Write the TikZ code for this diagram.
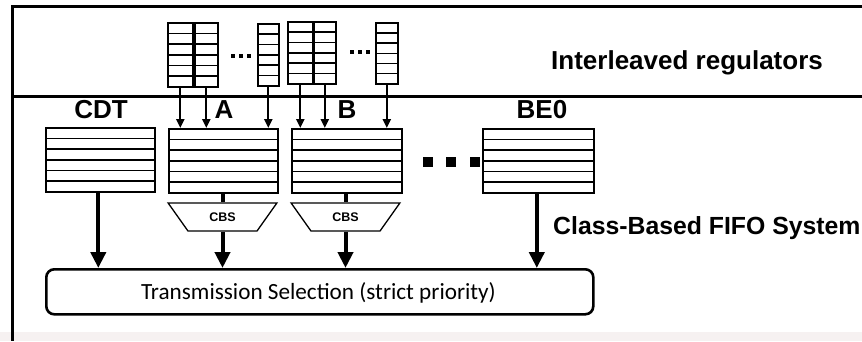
\documentclass[tikz,border=0pt]{standalone}
\usepackage{fontspec}
\setmainfont{Liberation Sans}
\newfontfamily\calib{Carlito}
\usetikzlibrary{arrows.meta,shapes.geometric,calc}
\definecolor{haze}{RGB}{246,241,241}

\tikzset{
  frameline/.style={line width=3pt},
  rowed/.style={draw, line width=1.6pt, inner sep=0pt, anchor=north west,
    path picture={\foreach \k in {1,...,5}{
      \draw[line width=1.4pt]
        ($(path picture bounding box.north west)!\k/6!(path picture bounding box.south west)$) --
        ($(path picture bounding box.north east)!\k/6!(path picture bounding box.south east)$);}}},
  regq/.style={rowed, minimum width=#1},
  fifo/.style={rowed, minimum height=64pt, minimum width=#1},
  lbl/.style={font=\fontsize{26}{28}\selectfont\bfseries, inner sep=0pt},
  tdot/.style={fill=black, inner sep=0pt, minimum size=4.5pt},
  bdot/.style={fill=black, inner sep=0pt, minimum size=10pt},
  cbs/.style={draw, line width=1.3pt, trapezium, shape border rotate=180,
    trapezium stretches=true, trapezium left angle=49.4, trapezium right angle=49.4,
    minimum height=28pt, inner sep=0pt, font=\fontsize{12.5}{14}\selectfont\bfseries},
  smallarrow/.style={line width=2.2pt, -{Triangle[width=8pt,length=9pt]}},
  bigarrow/.style={line width=4pt, -{Triangle[width=15pt,length=16pt]}},
  link/.style={line width=4pt},
}

\begin{document}
\begin{tikzpicture}[x=1pt, y=-1pt]
  \useasboundingbox (0,0) rectangle (862,341);
  \clip (0,0) rectangle (862,341);
  \fill[haze] (0,332) rectangle (862,341);

  % outer frame and divider between the two stages
  \draw[frameline] (862,6) -- (12,6) -- (12,341);
  \draw[frameline] (12,96) -- (862,96);

  % interleaved regulator queues
  \node[regq=25pt, minimum height=64pt] (r1) at (167,22) {};
  \node[regq=23pt, minimum height=64pt] (r2) at (194,22) {};
  \node[regq=21pt, minimum height=62pt] (r3) at (257,23) {};
  \node[regq=25pt, minimum height=62pt] (r4) at (287,21) {};
  \node[regq=22pt, minimum height=62pt] (r5) at (313,21) {};
  \node[regq=22pt, minimum height=61pt] (r6) at (375,22) {};

  \node[tdot] (da1) at (233,56) {};
  \node[tdot] (da2) at (241,56) {};
  \node[tdot] (da3) at (249,56) {};
  \node[tdot] (db1) at (352,52) {};
  \node[tdot] (db2) at (360,52) {};
  \node[tdot] (db3) at (368,52) {};

  \node[lbl, anchor=base west] (ireg) at (551,69) {Interleaved regulators};

  % class-based FIFO queues
  \node[fifo=109pt] (cdt) at (45,127) {};
  \node[fifo=109pt] (fa)  at (168,128) {};
  \node[fifo=110pt] (fb)  at (291,128) {};
  \node[fifo=111pt] (fbe) at (482,128) {};

  \node[lbl, anchor=base] (lcdt) at (101,118) {CDT};
  \node[lbl, anchor=base] (la)   at (224,118) {A};
  \node[lbl, anchor=base] (lb)   at (347,118) {B};
  \node[lbl, anchor=base] (lbe)  at (542,118) {BE0};

  \node[bdot] (e1) at (428,162) {};
  \node[bdot] (e2) at (451,162) {};
  \node[bdot] (e3) at (475,162) {};

  \node[lbl, font=\fontsize{24.8}{27}\selectfont\bfseries, anchor=base west]
        (cbfs) at (553,234) {Class-Based FIFO System};

  % credit-based shapers
  \node[cbs, minimum width=109pt] (sa) at (222.5,217) {CBS};
  \node[cbs, minimum width=109pt] (sb) at (345.5,217) {CBS};

  % transmission selection
  \node[draw, line width=2.6pt, rounded corners=8pt, anchor=north west,
        minimum width=547pt, minimum height=45pt, inner sep=0pt] (trans) at (45,268) {};
  \node[font=\calib\fontsize{23.2}{26}\selectfont, anchor=base, inner sep=0pt]
        (ttxt) at (318.5,299) {Transmission Selection (strict priority)};

  % regulators feed the FIFO queues
  \foreach \r in {r1,r2,r3}
    \draw[smallarrow] (\r.south) -- (\r.south |- fa.north);
  \foreach \r in {r4,r5,r6}
    \draw[smallarrow] (\r.south) -- (\r.south |- fb.north);

  % FIFO queues to the shapers and the selection
  \draw[link] (fa.south -| sa.north) -- (sa.north);
  \draw[link] (fb.south -| sb.north) -- (sb.north);
  \draw[bigarrow] ([xshift=-2pt]cdt.south) -- ([xshift=-2pt]cdt.south |- trans.north);
  \draw[bigarrow] (sa.south) -- (sa.south |- trans.north);
  \draw[bigarrow] (sb.south) -- (sb.south |- trans.north);
  \draw[bigarrow] ([xshift=-1.5pt]fbe.south) -- ([xshift=-1.5pt]fbe.south |- trans.north);
\end{tikzpicture}
\end{document}
